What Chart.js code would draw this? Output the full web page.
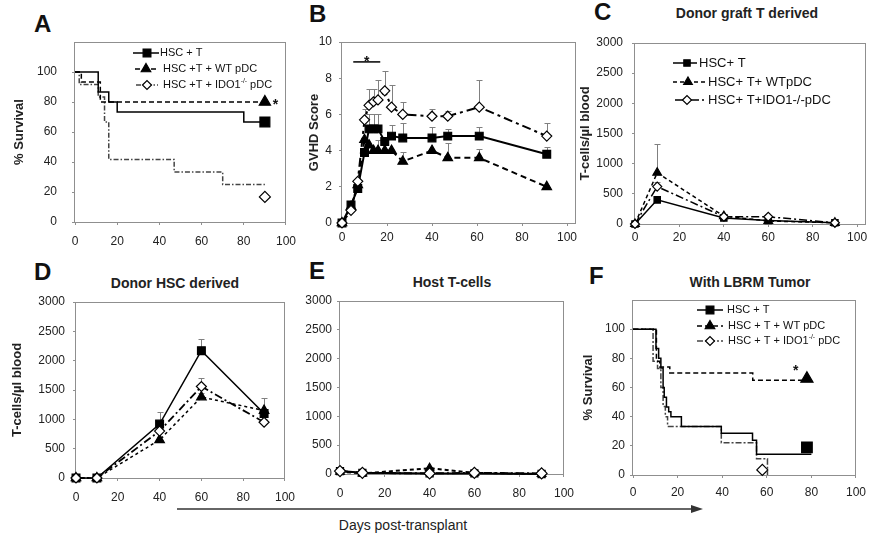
<!DOCTYPE html>
<html>
<head>
<meta charset="utf-8">
<title>GVHD panels</title>
<script src="https://cdn.jsdelivr.net/npm/chart.js@4.4.1/dist/chart.umd.min.js"></script>
<style>
  html, body { margin: 0; padding: 0; background: #fff; }
  body { position: relative; width: 869px; height: 534px; overflow: hidden;
         font-family: "Liberation Sans", Arial, sans-serif; color: #111; }
  canvas { position: absolute; }
  .tag { position: absolute; font-size: 24px; font-weight: bold; line-height: 1; }
  .head { position: absolute; font-size: 14px; font-weight: bold; white-space: nowrap;
          line-height: 1; transform: translate(-50%, -50%); color: #222; }
  #arrow { position: absolute; left: 0; top: 0; }
</style>
</head>
<body>
<div class="tag" style="left:34px;top:12px">A</div>
<div class="tag" style="left:309px;top:2px">B</div>
<div class="tag" style="left:594px;top:0px">C</div>
<div class="tag" style="left:34px;top:260px">D</div>
<div class="tag" style="left:309px;top:259px">E</div>
<div class="tag" style="left:589px;top:264px">F</div>
<div class="head" style="left:747px;top:13px">Donor graft T derived</div>
<div class="head" style="left:175px;top:283px">Donor HSC derived</div>
<div class="head" style="left:452px;top:282px">Host T-cells</div>
<div class="head" style="left:750px;top:282px">With LBRM Tumor</div>
<div class="head" style="left:403px;top:525px;font-weight:normal">Days post-transplant</div>
<svg id="arrow" width="869" height="534">
  <line x1="177" y1="509" x2="694" y2="509" stroke="#333" stroke-width="1.5"/>
  <polygon points="703,509 691,505 691,513" fill="#333"/>
</svg>
<canvas id="cA"></canvas>
<canvas id="cB"></canvas>
<canvas id="cC"></canvas>
<canvas id="cD"></canvas>
<canvas id="cE"></canvas>
<canvas id="cF"></canvas>
<script>
Chart.defaults.font.family = '"Liberation Sans", Arial, sans-serif';
Chart.defaults.color = '#222';

// ---------- data ----------
const dayTicks = [0, 20, 40, 60, 80, 100];
const survTicks = [0, 20, 40, 60, 80, 100];
const scoreTicks = [0, 2, 4, 6, 8, 10];
const cellTicks = [0, 500, 1000, 1500, 2000, 2500, 3000];

const namesA = ['HSC + T', 'HSC +T + WT pDC', 'HSC +T + IDO1^-/- pDC'];
const namesC = ['HSC+ T', 'HSC+ T+ WTpDC', 'HSC+ T+IDO1-/-pDC'];
const namesF = ['HSC + T', 'HSC + T + WT pDC', 'HSC + T + IDO1^-/- pDC'];

// A: survival steps
const daysA_T = [0, 11, 16, 20, 80, 90];
const survA_T = [100, 86.7, 80, 73.3, 66.7, 66.7];
const daysA_WT = [0, 3, 12, 90];
const survA_WT = [100, 93.3, 80, 80];
const daysA_IDO = [0, 2, 11, 14, 16, 47, 70, 90];
const survA_IDO = [100, 91.7, 83.3, 66.7, 41.7, 33.3, 25, 25];
const endA_day = [90, 90, 90];
const endA_surv = [66.7, 80, 16.7];

// B: GVHD score
const daysB = [0, 4, 7, 10, 12, 14, 16, 19, 22, 27, 40, 47, 61, 91];
const scoreB_T   = [0, 1.0, 1.9, 3.9, 5.2, 5.2, 5.2, 4.5, 4.8, 4.7, 4.7, 4.8, 4.8, 3.8];
const scoreB_WT  = [0, 0.9, 2.1, 4.6, 4.3, 4.0, 4.0, 4.0, 4.0, 3.4, 4.0, 3.6, 3.6, 2.0];
const scoreB_IDO = [0, 0.7, 2.3, 5.7, 6.5, 6.7, 6.8, 7.3, 6.4, 6.0, 5.9, 5.9, 6.4, 4.8];
const errB_T   = [null, null, null, null, 6.0, 6.0, 6.0, null, 5.4, 5.5, 5.3, 5.2, 5.3, 4.2];
const errB_WT  = [null, null, null, null, null, null, 4.6, null, null, 3.9, null, 4.4, 4.1, null];
const errB_IDO = [null, null, null, 6.3, 7.4, 7.4, 7.9, 8.4, 7.6, 6.7, 6.3, 6.2, 7.9, 5.5];
const sigB_days = [5, 17];
const sigB_level = 8.9;

// C, D, E: T-cells per µl blood
const daysCDE = [0, 10, 40, 60, 90];
const cellsC_T   = [0, 400, 100, 60, 20];
const cellsC_WT  = [0, 850, 130, 50, 20];
const cellsC_IDO = [0, 620, 120, 120, 20];
const errC_WT  = [null, 1330, 160, null, null];
const errC_IDO = [null, 700, 150, 150, null];

const cellsD_T   = [0, 0, 920, 2170, 1100];
const cellsD_WT  = [0, 0, 650, 1380, 1150];
const cellsD_IDO = [0, 0, 800, 1560, 950];
const errD_T   = [null, null, 1130, 2370, 1370];
const errD_WT  = [null, null, 700, 1450, null];
const errD_IDO = [null, null, 900, 1700, 1000];

const cellsE_T   = [50, 20, 10, 10, 0];
const cellsE_WT  = [40, 10, 100, 20, 0];
const cellsE_IDO = [50, 20, 10, 20, 10];
const errE_WT = [null, null, 130, null, null];

// F: survival with tumour
const daysF_T = [0, 10.3, 11.5, 12.5, 13.5, 14, 15, 16, 17, 21.7, 39.6, 53.6, 55.4, 80];
const survF_T = [100, 86.7, 80, 73.3, 60, 53.3, 46.7, 43.3, 40, 33.3, 28.6, 23.8, 14.3, 14.3];
const daysF_WT = [0, 10.5, 12, 16.5, 53.7, 77];
const survF_WT = [100, 78, 74, 70, 65, 65];
const daysF_IDO = [0, 9, 11, 12.5, 13.5, 14.5, 15.5, 39.6, 55.4, 60.3];
const survF_IDO = [100, 78, 73, 60, 47, 40, 33.3, 22.2, 11.1, 0];
const endF_day = [78, 78, 58];
const endF_surv = [19, 66, 3.5];

// ---------- helpers ----------
const FONT = '"Liberation Sans", Arial, sans-serif';
const xy = (xs, ys) => xs.map((x, i) => ({x: x, y: ys[i]}));

function marker(ctx, shape, x, y, r, fill) {
    ctx.beginPath();
    if (shape === 'rect') {
        const s = r * Math.SQRT1_2;
        ctx.rect(x - s, y - s, 2 * s, 2 * s);
    } else if (shape === 'triangle') {
        for (let k = 0; k < 3; k++) {
            const a = k * 2 * Math.PI / 3;
            const px = x + Math.sin(a) * r, py = y - Math.cos(a) * r;
            if (k) ctx.lineTo(px, py); else ctx.moveTo(px, py);
        }
        ctx.closePath();
    } else {
        ctx.moveTo(x - r, y); ctx.lineTo(x, y - r); ctx.lineTo(x + r, y); ctx.lineTo(x, y + r);
        ctx.closePath();
    }
    ctx.fillStyle = fill; ctx.fill();
    ctx.strokeStyle = '#000'; ctx.lineWidth = 1.2; ctx.stroke();
}

// "IDO1^-/- pDC" -> superscript part
function label(ctx, text, x, y, size) {
    const parts = text.split(/\^(\S+)/);
    ctx.fillStyle = '#111'; ctx.textBaseline = 'middle'; ctx.textAlign = 'left';
    parts.forEach((s, i) => {
        const sup = i % 2 === 1;
        ctx.font = (sup ? size * 0.62 : size) + 'px ' + FONT;
        ctx.fillText(s, x, sup ? y - size * 0.32 : y);
        x += ctx.measureText(s).width;
    });
}

const framePlugin = {
    id: 'frame',
    beforeDatasetsDraw(chart) {
        const a = chart.chartArea, ctx = chart.ctx;
        ctx.save();
        ctx.strokeStyle = '#8f8f8f'; ctx.lineWidth = 1;
        ctx.strokeRect(Math.round(a.left) - 0.5, Math.round(a.top) + 0.5,
                       Math.round(a.right - a.left), Math.round(a.bottom - a.top));
        ctx.restore();
    }
};

const errPlugin = {
    id: 'err',
    beforeDatasetsDraw(chart) {
        const ctx = chart.ctx, xs = chart.scales.x, ys = chart.scales.y;
        ctx.save();
        ctx.strokeStyle = '#808080'; ctx.lineWidth = 1;
        chart.data.datasets.forEach(ds => {
            if (!ds.errUp) return;
            ds.data.forEach((p, i) => {
                const top = ds.errUp[i];
                if (top == null) return;
                const px = Math.round(xs.getPixelForValue(p.x)) + 0.5;
                const y0 = ys.getPixelForValue(p.y), y1 = Math.round(ys.getPixelForValue(top)) + 0.5;
                ctx.beginPath();
                ctx.moveTo(px, y0); ctx.lineTo(px, y1);
                ctx.moveTo(px - 3, y1); ctx.lineTo(px + 3, y1);
                ctx.stroke();
            });
        });
        ctx.restore();
    }
};

function keyPlugin(rows, ox, oy, size) {
    return {
        id: 'key',
        afterDraw(chart) {
            const ctx = chart.ctx;
            rows.forEach(r => {
                const y = r.y - oy, lk = r.look;
                ctx.save();
                ctx.strokeStyle = lk.color; ctx.lineWidth = lk.width; ctx.setLineDash(lk.dash);
                ctx.beginPath(); ctx.moveTo(r.x0 - ox, y); ctx.lineTo(r.x1 - ox, y); ctx.stroke();
                ctx.setLineDash([]);
                marker(ctx, lk.shape, r.mx - ox, y, r.r, lk.fill);
                label(ctx, r.text, r.tx - ox, y, size);
                ctx.restore();
            });
        }
    };
}

function notePlugin(notes) {
    return {
        id: 'notes',
        afterDatasetsDraw(chart) {
            const ctx = chart.ctx;
            ctx.save();
            ctx.fillStyle = '#111'; ctx.textAlign = 'center'; ctx.textBaseline = 'middle';
            ctx.font = 'bold 14px ' + FONT;
            notes.forEach(n => {
                ctx.fillText(n.text, chart.scales.x.getPixelForValue(n.x),
                             chart.scales.y.getPixelForValue(n.y) + 3);
            });
            ctx.restore();
        }
    };
}

function stepSet(xs, ys, lk) {
    return {data: xy(xs, ys), stepped: true, borderColor: lk.color, borderWidth: lk.width,
            borderDash: lk.dash, pointRadius: 0, fill: false};
}
function endSet(x, y, lk) {
    return {data: [{x: x, y: y}], showLine: false, pointStyle: lk.shape, pointRadius: lk.r,
            pointBackgroundColor: lk.fill, pointBorderColor: '#000', pointBorderWidth: 1.2, clip: false};
}
function lineSet(xs, ys, lk, err) {
    return {data: xy(xs, ys), borderColor: lk.color, borderWidth: lk.width, borderDash: lk.dash,
            pointStyle: lk.shape, pointRadius: lk.r, pointBackgroundColor: lk.fill,
            pointBorderColor: '#000', pointBorderWidth: 1.2, tension: 0, clip: false, errUp: err};
}

function panel(id, g, cfg) {
    const cv = document.getElementById(id);
    const left = g.L - g.padL, top = g.T - g.padT;
    const w = g.R - g.L + g.padL + g.padR;
    const h = g.B - g.T + g.padT + g.padB;
    cv.style.left = left + 'px'; cv.style.top = top + 'px';
    cv.style.width = w + 'px'; cv.style.height = h + 'px';
    cv.width = w; cv.height = h;

    const grid = {drawOnChartArea: false, tickLength: 3, color: '#8f8f8f'};
    const plugins = [framePlugin, errPlugin];
    if (cfg.key) plugins.push(keyPlugin(cfg.key, left, top, cfg.keySize));
    if (cfg.notes) plugins.push(notePlugin(cfg.notes));

    return new Chart(cv, {
        type: 'line',
        data: {datasets: cfg.datasets},
        options: {
            responsive: false,
            animation: false,
            devicePixelRatio: 1,
            layout: {padding: {left: 0, top: g.padT, right: g.padR, bottom: 0}},
            scales: {
                x: {
                    type: 'linear', min: 0, max: cfg.xMax,
                    afterBuildTicks: s => { s.ticks = dayTicks.map(v => ({value: v})); },
                    afterFit: s => { s.height = g.padB; },
                    border: {display: false},
                    grid: grid,
                    ticks: {padding: cfg.xPad, color: '#222', font: {size: 12}, maxRotation: 0,
                            autoSkip: false, callback: v => String(v)}
                },
                y: {
                    type: 'linear', min: 0, max: cfg.yMax,
                    afterBuildTicks: s => { s.ticks = cfg.yTicks.map(v => ({value: v})); },
                    afterFit: s => { s.width = g.padL; },
                    border: {display: false},
                    grid: grid,
                    ticks: {padding: cfg.yPad, color: '#222', font: {size: 12}, callback: v => String(v)},
                    title: cfg.yTitle ? {display: true, text: cfg.yTitle, color: '#222',
                                         font: {size: 13, weight: 'bold'},
                                         padding: {top: cfg.yTitlePad, bottom: 0}}
                                      : {display: false}
                }
            },
            plugins: {legend: {display: false}, tooltip: {enabled: false}}
        },
        plugins: plugins
    });
}

// ---------- A ----------
const lkA = [
    {color: '#000', width: 1.5, dash: [], shape: 'rect', fill: '#000', r: 7},
    {color: '#000', width: 1.5, dash: [5, 3], shape: 'triangle', fill: '#000', r: 6.5},
    {color: '#444', width: 1.5, dash: [5, 2, 1.5, 2], shape: 'rectRot', fill: '#fff', r: 5.5}
];
panel('cA', {L: 75, T: 42, R: 287, B: 222, padL: 75, padT: 42, padR: 18, padB: 30}, {
    xMax: 100, yMax: 120, yTicks: survTicks, xPad: 9, yPad: 15,
    yTitle: '% Survival', yTitlePad: 12,
    datasets: [
        stepSet(daysA_T, survA_T, lkA[0]),
        stepSet(daysA_WT, survA_WT, lkA[1]),
        stepSet(daysA_IDO, survA_IDO, lkA[2]),
        endSet(endA_day[0], endA_surv[0], lkA[0]),
        endSet(endA_day[1], endA_surv[1], lkA[1]),
        endSet(endA_day[2], endA_surv[2], lkA[2])
    ],
    notes: [{x: 95, y: 80, text: '*'}],
    keySize: 11,
    key: [
        {look: lkA[0], text: namesA[0], y: 53, x0: 133, x1: 159, mx: 147, tx: 160, r: 5.5},
        {look: lkA[1], text: namesA[1], y: 69, x0: 135, x1: 158, mx: 146, tx: 163, r: 5.5},
        {look: lkA[2], text: namesA[2], y: 85, x0: 136, x1: 158, mx: 147, tx: 163, r: 4.5}
    ]
});

// ---------- B ----------
const lkB = [
    {color: '#000', width: 2, dash: [], shape: 'rect', fill: '#000', r: 5.5},
    {color: '#000', width: 2, dash: [6, 4], shape: 'triangle', fill: '#000', r: 5.5},
    {color: '#000', width: 2, dash: [9, 4, 3, 4], shape: 'rectRot', fill: '#fff', r: 5}
];
panel('cB', {L: 342, T: 42, R: 576, B: 223, padL: 52, padT: 42, padR: 14, padB: 30}, {
    xMax: 104, yMax: 10, yTicks: scoreTicks, xPad: 4, yPad: 7,
    yTitle: 'GVHD Score', yTitlePad: 17,
    datasets: [
        lineSet(daysB, scoreB_IDO, lkB[2], errB_IDO),
        lineSet(daysB, scoreB_T, lkB[0], errB_T),
        lineSet(daysB, scoreB_WT, lkB[1], errB_WT),
        {data: xy(sigB_days, [sigB_level, sigB_level]), borderColor: '#000', borderWidth: 1.5, pointRadius: 0}
    ],
    notes: [{x: 11, y: 9.05, text: '*'}]
});

// ---------- C ----------
const lkC = [
    {color: '#000', width: 1.5, dash: [], shape: 'rect', fill: '#000', r: 4.5},
    {color: '#000', width: 1.5, dash: [4, 3], shape: 'triangle', fill: '#000', r: 5},
    {color: '#000', width: 1.5, dash: [8, 3, 2, 3], shape: 'rectRot', fill: '#fff', r: 4.5}
];
panel('cC', {L: 635, T: 43, R: 866, B: 224, padL: 57, padT: 43, padR: 14, padB: 30}, {
    xMax: 104, yMax: 3000, yTicks: cellTicks, xPad: 3, yPad: 9,
    yTitle: 'T-cells/µl blood', yTitlePad: 0,
    datasets: [
        lineSet(daysCDE, cellsC_IDO, lkC[2], errC_IDO),
        lineSet(daysCDE, cellsC_T, lkC[0], null),
        lineSet(daysCDE, cellsC_WT, lkC[1], errC_WT)
    ],
    keySize: 13,
    key: [
        {look: lkC[0], text: namesC[0], y: 63, x0: 673, x1: 697, mx: 687, tx: 699, r: 4.5},
        {look: lkC[1], text: namesC[1], y: 82, x0: 673, x1: 706, mx: 688, tx: 708, r: 5},
        {look: lkC[2], text: namesC[2], y: 100, x0: 675, x1: 705, mx: 687, tx: 708, r: 4.5}
    ]
});

// ---------- D ----------
const lkD = [
    {color: '#000', width: 1.5, dash: [], shape: 'rect', fill: '#000', r: 5.5},
    {color: '#000', width: 1.5, dash: [3, 3], shape: 'triangle', fill: '#000', r: 5.5},
    {color: '#000', width: 1.8, dash: [8, 3, 2, 3], shape: 'rectRot', fill: '#fff', r: 5}
];
panel('cD', {L: 76, T: 302, R: 288, B: 478, padL: 76, padT: 42, padR: 16, padB: 30}, {
    xMax: 100, yMax: 3000, yTicks: cellTicks, xPad: 9, yPad: 8,
    yTitle: 'T-cells/µl blood', yTitlePad: 10,
    datasets: [
        lineSet(daysCDE, cellsD_IDO, lkD[2], errD_IDO),
        lineSet(daysCDE, cellsD_T, lkD[0], errD_T),
        lineSet(daysCDE, cellsD_WT, lkD[1], errD_WT)
    ]
});

// ---------- E ----------
const lkE = [
    {color: '#000', width: 2, dash: [], shape: 'rect', fill: '#000', r: 5},
    {color: '#000', width: 2, dash: [4, 3], shape: 'triangle', fill: '#000', r: 5},
    {color: '#000', width: 2, dash: [8, 3, 2, 3], shape: 'rectRot', fill: '#fff', r: 5.5}
];
panel('cE', {L: 340, T: 301, R: 567, B: 474, padL: 50, padT: 41, padR: 16, padB: 30}, {
    xMax: 100, yMax: 3000, yTicks: cellTicks, xPad: 9, yPad: 5,
    yTitle: null,
    datasets: [
        lineSet(daysCDE, cellsE_IDO, lkE[2], null),
        lineSet(daysCDE, cellsE_T, lkE[0], null),
        lineSet(daysCDE, cellsE_WT, lkE[1], errE_WT)
    ]
});

// ---------- F ----------
const lkF = [
    {color: '#000', width: 1.5, dash: [], shape: 'rect', fill: '#000', r: 7.5},
    {color: '#000', width: 1.5, dash: [5, 3], shape: 'triangle', fill: '#000', r: 7},
    {color: '#444', width: 1.5, dash: [6, 2, 2, 2], shape: 'rectRot', fill: '#fff', r: 5.5}
];
panel('cF', {L: 633, T: 300, R: 857, B: 475, padL: 52, padT: 40, padR: 16, padB: 30}, {
    xMax: 100, yMax: 120, yTicks: survTicks, xPad: 7, yPad: 5,
    yTitle: '% Survival', yTitlePad: 0,
    datasets: [
        stepSet(daysF_T, survF_T, lkF[0]),
        stepSet(daysF_WT, survF_WT, lkF[1]),
        stepSet(daysF_IDO, survF_IDO, lkF[2]),
        endSet(endF_day[0], endF_surv[0], lkF[0]),
        endSet(endF_day[1], endF_surv[1], lkF[1]),
        endSet(endF_day[2], endF_surv[2], lkF[2])
    ],
    notes: [{x: 73, y: 73, text: '*'}],
    keySize: 11,
    key: [
        {look: lkF[0], text: namesF[0], y: 310, x0: 697, x1: 723, mx: 710, tx: 727, r: 5.5},
        {look: lkF[1], text: namesF[1], y: 326, x0: 697, x1: 723, mx: 710, tx: 728, r: 5.5},
        {look: lkF[2], text: namesF[2], y: 341, x0: 697, x1: 723, mx: 710, tx: 728, r: 4.5}
    ]
});
</script>
</body>
</html>
